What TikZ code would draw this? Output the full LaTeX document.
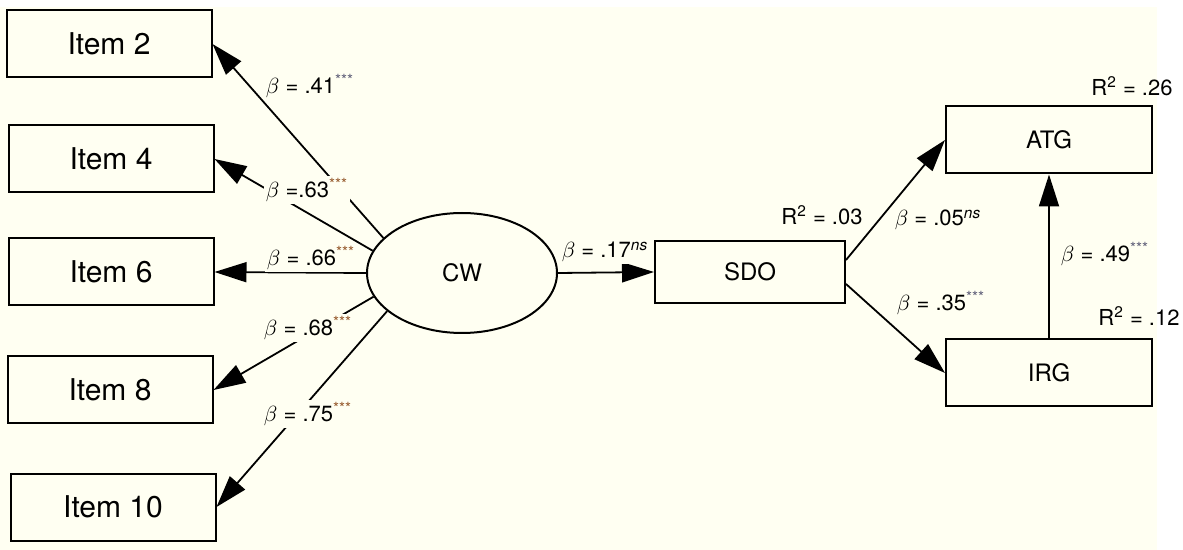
\documentclass[tikz,border=0pt]{standalone}
\usepackage{fontspec}
\setmainfont{TeX Gyre Heros}
\usepackage{tikz}
\usetikzlibrary{shapes.geometric,arrows.meta}
\definecolor{bgc}{RGB}{255,255,242}
\definecolor{stara}{RGB}{150,90,45}
\definecolor{starb}{RGB}{95,95,120}
\newcommand{\stars}[1][stara]{\textsuperscript{\color{#1}***}}
\newcommand{\nsig}{\textsuperscript{\itshape ns}}

\begin{document}
\begin{tikzpicture}[x=0.5pt,y=-0.5pt,
	item/.style={draw, line width=1pt, fill=bgc, minimum width=102.5pt, minimum height=33.5pt, inner sep=0pt, font=\fontsize{15}{17}\selectfont},
	var/.style={draw, line width=1pt, fill=bgc, inner sep=0pt, font=\fontsize{12}{14}\selectfont},
	latent/.style={var, ellipse, minimum width=95pt, minimum height=60pt},
	lab/.style={fill=bgc, inner sep=1pt, font=\fontsize{11}{13}\selectfont},
	rsq/.style={inner sep=1pt, font=\fontsize{11}{13}\selectfont},
	path/.style={line width=0.9pt, -{Triangle[length=16pt,width=10pt]}}]
	\fill[white] (0,0) rectangle (1183,550);
	\fill[bgc] (0,7) rectangle (1157,550);
	\useasboundingbox (0,0) rectangle (1183,550);
	\node[item] (i2) at (109,44) {Item 2};
	\node[item] (i4) at (111,159) {Item 4};
	\node[item] (i6) at (111,272) {Item 6};
	\node[item] (i8) at (110,390) {Item 8};
	\node[item] (i10) at (113,507) {Item 10};
	\node[latent] (cw) at (462,273) {CW};
	\node[var, minimum width=95pt, minimum height=31pt] (sdo) at (750,272) {SDO};
	\node[var, minimum width=103pt, minimum height=33.5pt] (atg) at (1049,140) {ATG};
	\node[var, minimum width=103pt, minimum height=33.5pt] (irg) at (1049,373) {IRG};
	\draw[path] (cw.156) -- (i2.east);
	\draw[path] (cw.166) -- (i4.east);
	\draw[path] (cw.west) -- (i6.east);
	\draw[path] (cw.195) -- (i8.east);
	\draw[path] (cw.207) -- (i10.east);
	\draw[path] (cw.east) -- (sdo.west);
	\draw[path] ([yshift=6pt]sdo.east) -- (atg.west);
	\draw[path] ([yshift=-6pt]sdo.east) -- (irg.west);
	\draw[path] (irg.north) -- (atg.south);
	\node[lab] (b2) at (310,86) {$\beta$ = .41\stars[starb]};
	\node[lab] (b4) at (307,190) {$\beta$ =.63\stars};
	\node[lab] (b6) at (311,258) {$\beta$ = .66\stars};
	\node[lab] (b8) at (308,328) {$\beta$ = .68\stars};
	\node[lab] (b10) at (308,414) {$\beta$ = .75\stars};
	\node[lab] (bsdo) at (605,252) {$\beta$ = .17\nsig};
	\node[lab] (batg) at (938,220) {$\beta$ = .05\nsig};
	\node[lab] (birg) at (941,303) {$\beta$ = .35\stars[starb]};
	\node[lab] (bir) at (1105,254) {$\beta$ = .49\stars[starb]};
	\node[rsq] (rsdo) at (822,215) {R\textsuperscript{2} = .03};
	\node[rsq] (ratg) at (1132,86) {R\textsuperscript{2} = .26};
	\node[rsq] (rirg) at (1139,316) {R\textsuperscript{2} = .12};
\end{tikzpicture}
\end{document}
